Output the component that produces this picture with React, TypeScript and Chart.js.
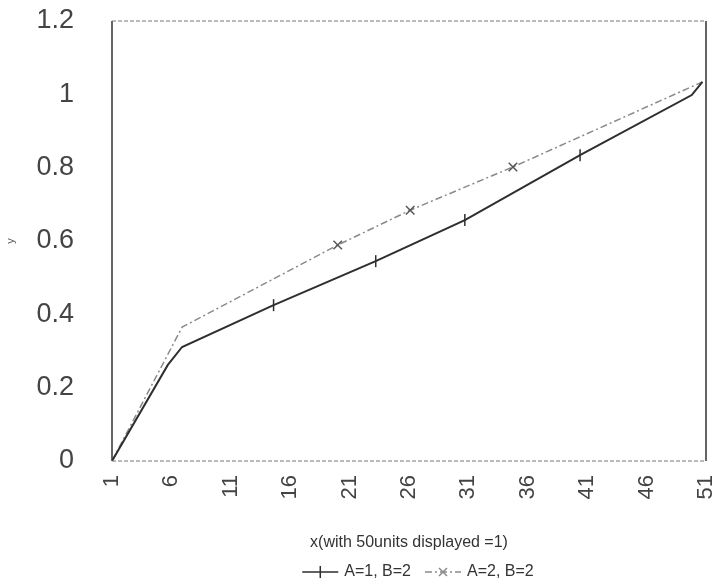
import React, { useEffect, useRef } from "react";
import { Chart, registerables } from "chart.js";
Chart.register(...registerables);

const xTicks = [1, 6, 11, 16, 21, 26, 31, 36, 41, 46, 51];
const yTicks = [0, 0.2, 0.4, 0.6, 0.8, 1, 1.2];
const seriesNames = ["A=1, B=2", "A=2, B=2"];
const xA1 = [1, 5.7, 6.9, 14.6, 23.2, 30.7, 40.4, 49.8, 50.7];
const yA1 = [0, 0.262, 0.311, 0.425, 0.545, 0.657, 0.834, 0.998, 1.034];
const markA1 = [14.6, 23.2, 30.7, 40.4];
const xA2 = [1, 6.9, 20.0, 26.1, 34.75, 50.7];
const yA2 = [0, 0.365, 0.589, 0.684, 0.802, 1.034];
const markA2 = [20.0, 26.1, 34.75];
const xTitle = "x(with 50units displayed =1)";
const yTitle = "y";

const FONT = "'Liberation Sans', Arial, sans-serif";
const C1 = "#2e2e2e";
const C2 = "#8a8a8a";
const DASH2 = [7, 3, 2, 3];

const frame = {
  id: "frame",
  afterDraw(chart: any) {
    const { ctx, chartArea: a } = chart;
    ctx.save();
    ctx.lineWidth = 1.5;
    ctx.strokeStyle = "#333";
    ctx.beginPath();
    ctx.moveTo(a.left, a.top);
    ctx.lineTo(a.left, a.bottom);
    ctx.moveTo(a.right, a.top);
    ctx.lineTo(a.right, a.bottom);
    ctx.stroke();
    ctx.lineWidth = 1;
    ctx.strokeStyle = "#777";
    ctx.setLineDash([4, 2]);
    ctx.beginPath();
    ctx.moveTo(a.left, a.top);
    ctx.lineTo(a.right, a.top);
    ctx.moveTo(a.left, a.bottom);
    ctx.lineTo(a.right, a.bottom);
    ctx.stroke();
    ctx.restore();
  },
};

const legendPlugin = {
  id: "customLegend",
  afterDraw(chart: any) {
    const { ctx } = chart;
    ctx.save();
    ctx.font = `16px ${FONT}`;
    ctx.textBaseline = "middle";
    ctx.fillStyle = "#333";
    const lineW = 36;
    const gap = 6;
    const between = 14;
    const w1 = ctx.measureText(seriesNames[0]).width;
    const w2 = ctx.measureText(seriesNames[1]).width;
    const total = lineW + gap + w1 + between + lineW + gap + w2;
    const cx = 418;
    const y = 572;
    let x = cx - total / 2;
    ctx.strokeStyle = C1;
    ctx.lineWidth = 1.5;
    ctx.beginPath();
    ctx.moveTo(x, y);
    ctx.lineTo(x + lineW, y);
    ctx.moveTo(x + lineW / 2, y - 6);
    ctx.lineTo(x + lineW / 2, y + 6);
    ctx.stroke();
    x += lineW + gap;
    ctx.fillText(seriesNames[0], x, y);
    x += w1 + between;
    ctx.strokeStyle = C2;
    ctx.setLineDash(DASH2);
    ctx.beginPath();
    ctx.moveTo(x, y);
    ctx.lineTo(x + lineW, y);
    ctx.stroke();
    ctx.setLineDash([]);
    const mx = x + lineW / 2;
    ctx.beginPath();
    ctx.moveTo(mx - 4, y - 4);
    ctx.lineTo(mx + 4, y + 4);
    ctx.moveTo(mx - 4, y + 4);
    ctx.lineTo(mx + 4, y - 4);
    ctx.stroke();
    x += lineW + gap;
    ctx.fillText(seriesNames[1], x, y);
    ctx.restore();
  },
};

export default function App() {
  const ref = useRef<HTMLCanvasElement | null>(null);
  useEffect(() => {
    document.body.style.margin = "0";
    const canvas = ref.current;
    if (!canvas) return;
    const d1 = xA1.map((x, i) => ({ x, y: yA1[i] }));
    const d2 = xA2.map((x, i) => ({ x, y: yA2[i] }));
    const chart = new Chart(canvas, {
      type: "line",
      data: {
        datasets: [
          {
            label: seriesNames[0],
            data: d1,
            borderColor: C1,
            backgroundColor: C1,
            borderWidth: 2,
            pointStyle: "line",
            rotation: 90,
            pointRadius: xA1.map((x) => (markA1.includes(x) ? 6 : 0)),
            pointBorderWidth: 1.5,
            pointBorderColor: C1,
            tension: 0,
          },
          {
            label: seriesNames[1],
            data: d2,
            borderColor: C2,
            backgroundColor: C2,
            borderWidth: 1.5,
            borderDash: DASH2,
            pointStyle: "crossRot",
            pointRadius: xA2.map((x) => (markA2.includes(x) ? 6 : 0)),
            pointBorderWidth: 1.5,
            pointBorderColor: "#555",
            tension: 0,
          },
        ],
      },
      options: {
        animation: false,
        responsive: false,
        maintainAspectRatio: false,
        layout: { padding: { top: 21, right: 14, bottom: 30, left: 0 } },
        plugins: { legend: { display: false }, tooltip: { enabled: false } },
        scales: {
          x: {
            type: "linear",
            min: 1,
            max: 51,
            grid: { display: false, drawTicks: false },
            border: { display: false },
            afterBuildTicks: (s: any) => {
              s.ticks = xTicks.map((v) => ({ value: v }));
            },
            afterFit: (s: any) => {
              s.height = 91;
              s.paddingLeft = 0;
              s.paddingRight = 0;
            },
            ticks: {
              autoSkip: false,
              minRotation: 90,
              maxRotation: 90,
              padding: 14,
              color: "#444",
              font: { family: FONT, size: 22 },
              callback: (v: any) => String(v),
            },
            title: {
              display: true,
              text: xTitle,
              color: "#333",
              font: { family: FONT, size: 16 },
              padding: { top: 4, bottom: 0 },
            },
          },
          y: {
            min: 0,
            max: 1.2,
            grid: { display: false, drawTicks: false },
            border: { display: false },
            afterBuildTicks: (s: any) => {
              s.ticks = yTicks.map((v) => ({ value: v }));
            },
            afterFit: (s: any) => {
              s.width = 112;
              s.paddingTop = 0;
              s.paddingBottom = 0;
            },
            ticks: {
              padding: 38,
              color: "#444",
              font: { family: FONT, size: 27 },
              callback: (v: any) => String(Math.round(Number(v) * 10) / 10),
            },
            title: {
              display: true,
              text: yTitle,
              color: "#555",
              font: { family: FONT, size: 11 },
              padding: { top: 4, bottom: 4 },
            },
          },
        },
      },
      plugins: [frame, legendPlugin],
    });
    return () => chart.destroy();
  }, []);
  return (
    <div style={{ position: "absolute", left: 0, top: 0, width: 720, height: 582, background: "#fff" }}>
      <canvas ref={ref} width={720} height={582} style={{ display: "block", width: 720, height: 582 }} />
    </div>
  );
}
